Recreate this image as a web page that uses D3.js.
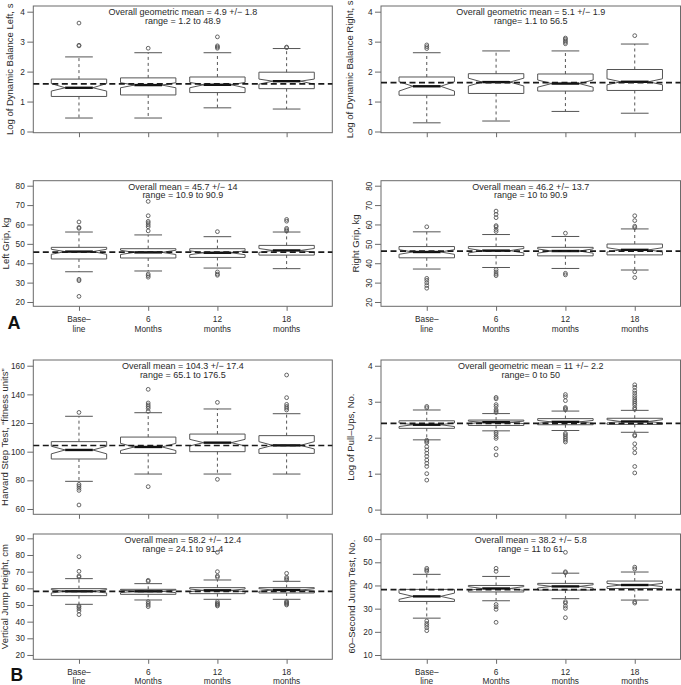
<!DOCTYPE html>
<html><head><meta charset="utf-8">
<script src="https://cdn.jsdelivr.net/npm/d3@7"></script>
<style>
body{margin:0;background:#fff}
svg{display:block;font-family:"Liberation Sans",Arial,Helvetica,sans-serif}
</style>
</head><body>
<svg id="chart" width="681" height="685"></svg>
<script>
// ---------------- data ----------------
const categories = ["Base–\nline", "6\nMonths", "12\nmonths", "18\nmonths"];

// each row: [whiskerLow, Q1, notchLow, median, notchHigh, Q3, whiskerHigh]
const balLeftStats = [
  [0.45, 1.17, 1.35, 1.46, 1.60, 1.75, 2.49],
  [0.45, 1.22, 1.46, 1.55, 1.63, 1.79, 2.63],
  [0.79, 1.30, 1.46, 1.56, 1.64, 1.82, 2.63],
  [0.75, 1.43, 1.58, 1.68, 1.75, 1.98, 2.77]];
const balLeftOut = [[2.86, 2.88, 3.62], [2.78], [2.78, 2.82, 2.86, 3.16], [2.80, 2.82]];
const balLeftMean = 1.59;

const balRightStats = [
  [0.29, 1.21, 1.35, 1.51, 1.66, 1.82, 2.63],
  [0.35, 1.27, 1.52, 1.65, 1.78, 1.93, 2.69],
  [0.67, 1.35, 1.48, 1.60, 1.72, 1.92, 2.69],
  [0.61, 1.37, 1.56, 1.66, 1.76, 2.07, 2.92]];
const balRightOut = [[2.77, 2.83, 2.89], [], [2.93, 2.98, 3.03, 3.08, 3.12], [3.20]];
const balRightMean = 1.63;

const gripLeftStats = [
  [35.6, 42.2, 44.6, 46.0, 47.2, 48.2, 56.1],
  [36.0, 42.7, 44.5, 45.6, 46.7, 47.5, 54.6],
  [37.5, 43.0, 44.4, 45.4, 46.4, 47.5, 53.7],
  [37.2, 44.2, 45.6, 46.6, 47.6, 49.2, 56.1]];
const gripLeftOut = [
  [22.9, 31.0, 31.7, 58.0, 58.5, 61.3],
  [32.8, 33.6, 34.4, 56.7, 58.8, 59.8, 60.8, 61.6, 64.5, 71.9],
  [33.8, 34.4, 35.5, 56.3],
  [56.6, 57.3, 58.0, 61.7, 62.6]];
const gripLeftMean = 45.7;

const gripRightStats = [
  [37.0, 42.8, 44.6, 45.8, 47.0, 48.6, 56.2],
  [37.8, 44.0, 45.3, 46.5, 47.6, 48.6, 54.8],
  [37.3, 43.8, 45.2, 46.3, 47.4, 48.2, 53.8],
  [36.5, 44.3, 45.8, 46.9, 48.0, 49.9, 57.7]];
const gripRightOut = [
  [27.1, 28.5, 29.9, 31.2, 32.2, 58.8],
  [33.6, 34.4, 35.5, 36.7, 56.4, 57.4, 58.8, 59.4, 63.5, 65.2, 66.9],
  [34.0, 34.8, 55.5],
  [32.6, 35.6, 58.4, 59.1, 62.0, 64.5]];
const gripRightMean = 46.2;

const harvardStats = [
  [79.3, 94.9, 98.5, 101.2, 103.8, 107.0, 124.7],
  [84.4, 98.8, 100.8, 103.3, 105.8, 110.2, 127.2],
  [84.4, 100.0, 104.0, 106.3, 108.6, 112.3, 129.8],
  [84.4, 98.8, 101.9, 104.4, 107.0, 111.2, 126.5]];
const harvardOut = [
  [62.8, 73.0, 74.5, 76.0, 77.2, 127.4],
  [75.6, 128.1, 130.2, 131.4, 132.6, 134.0, 143.5],
  [80.7, 134.4],
  [129.1, 130.4, 131.6, 133.0, 137.7, 153.5]];
const harvardMean = 104.3;

const pullStats = [
  [1.94, 2.26, 2.31, 2.36, 2.41, 2.47, 2.77],
  [2.19, 2.34, 2.39, 2.43, 2.46, 2.49, 2.67],
  [2.20, 2.36, 2.40, 2.44, 2.48, 2.53, 2.74],
  [2.15, 2.37, 2.41, 2.45, 2.50, 2.54, 2.76]];
const pullOut = [
  [0.82, 1.00, 1.20, 1.29, 1.38, 1.48, 1.57, 1.66, 1.75, 1.86, 1.90, 1.93, 2.83, 2.87],
  [1.52, 1.70, 1.98, 2.03, 2.10, 2.15, 2.70, 2.74, 2.78, 2.87, 2.92, 3.08, 3.12],
  [1.88, 1.93, 1.98, 2.03, 2.08, 2.12, 2.78, 2.81, 2.84, 3.03, 3.14, 3.20],
  [1.02, 1.20, 1.58, 1.70, 1.83, 2.05, 2.08, 2.79, 2.83, 2.90, 2.95, 3.00, 3.05, 3.11, 3.17, 3.24, 3.31, 3.40, 3.47]];
const pullMean = 2.40;

const vjumpStats = [
  [50.4, 55.6, 57.2, 58.2, 59.2, 59.8, 65.8],
  [53.0, 56.4, 57.4, 58.2, 59.0, 59.4, 62.8],
  [53.4, 56.8, 58.0, 58.8, 59.6, 60.4, 65.0],
  [53.4, 57.2, 58.2, 59.0, 59.8, 60.4, 64.2]];
const vjumpOut = [
  [44.2, 46.4, 47.8, 48.8, 49.4, 66.8, 67.4, 70.2, 79.0],
  [49.0, 50.0, 51.0, 52.0, 64.2, 64.8],
  [49.4, 50.0, 50.6, 51.0, 52.0, 66.6, 67.4, 70.0, 81.6],
  [50.0, 50.6, 51.2, 51.6, 52.2, 65.0, 65.8, 66.6, 69.0]];
const vjumpMean = 58.2;

const jump60Stats = [
  [25.9, 33.1, 34.0, 35.3, 36.7, 38.3, 44.8],
  [33.4, 37.2, 37.9, 38.7, 39.5, 40.0, 43.9],
  [34.3, 38.0, 38.9, 39.6, 40.3, 40.9, 45.3],
  [33.7, 38.7, 39.5, 40.2, 40.9, 41.9, 45.8]];
const jump60Out = [
  [20.5, 21.8, 22.8, 23.6, 24.7, 46.1, 46.7, 47.4],
  [24.1, 29.7, 30.8, 31.8, 46.1, 47.4],
  [26.1, 30.1, 31.1, 32.4, 33.0, 45.5, 45.9, 54.3],
  [32.4, 33.0, 47.1, 47.9]];
const jump60Mean = 38.2;

const logTicks = [0, 1, 2, 3, 4];
const gripTicks = [20, 30, 40, 50, 60, 70, 80];
const harvardTicks = [60, 80, 100, 120, 140, 160];
const vjumpTicks = [20, 30, 40, 50, 60, 70, 80, 90];
const jump60Ticks = [10, 20, 30, 40, 50, 60];

// ---------------- layout ----------------
const L = {x0: 33.3, x1: 332.3}, R = {x0: 381, x1: 680.5};
const rows = [
  {y0: 6, y1: 132.7}, {y0: 180.7, y1: 306.3}, {y0: 360, y1: 514.3}, {y0: 534, y1: 659.3}];

const panels = [
  {col: L, row: rows[0], stats: balLeftStats, out: balLeftOut, mean: balLeftMean, ticks: logTicks, dom: [-0.04, 4.19],
   label: "Log of Dynamic Balance Left, s", labX: 13,
   note: ["Overall geometric mean = 4.9 +/− 1.8", "range = 1.2 to 48.9"], xlab: false},
  {col: R, row: rows[0], stats: balRightStats, out: balRightOut, mean: balRightMean, ticks: logTicks, dom: [-0.04, 4.19],
   label: "Log of Dynamic Balance Right, s", labX: 353,
   note: ["Overall geometric mean = 5.1 +/− 1.9", "range= 1.1 to 56.5"], xlab: false},
  {col: L, row: rows[1], stats: gripLeftStats, out: gripLeftOut, mean: gripLeftMean, ticks: gripTicks, dom: [17.78, 82.58],
   label: "Left Grip, kg", labX: 8.5,
   note: ["Overall mean = 45.7 +/− 14", "range = 10.9 to 90.9"], xlab: true},
  {col: R, row: rows[1], stats: gripRightStats, out: gripRightOut, mean: gripRightMean, ticks: gripTicks, dom: [17.78, 82.58],
   label: "Right Grip, kg", labX: 358.5, rotTicks: true,
   note: ["Overall mean = 46.2 +/− 13.7", "range = 10 to 90.9"], xlab: true},
  {col: L, row: rows[2], stats: harvardStats, out: harvardOut, mean: harvardMean, ticks: harvardTicks, dom: [56.3, 163.98],
   label: "Harvard Step Test, \u201Cfitness units\u201D", labX: 8,
   note: ["Overall mean = 104.3 +/− 17.4", "range = 65.1 to 176.5"], xlab: false},
  {col: R, row: rows[2], stats: pullStats, out: pullOut, mean: pullMean, ticks: logTicks, dom: [-0.13, 4.16],
   label: "Log of Pull–Ups, No.", labX: 354,
   note: ["Overall geometric mean = 11 +/− 2.2", "range= 0 to 50"], xlab: false},
  {col: L, row: rows[3], stats: vjumpStats, out: vjumpOut, mean: vjumpMean, ticks: vjumpTicks, dom: [17.4, 92.6],
   label: "Vertical Jump Height, cm", labX: 7.5,
   note: ["Overall mean = 58.2 +/− 12.4", "range = 24.1 to 91.4"], xlab: true},
  {col: R, row: rows[3], stats: jump60Stats, out: jump60Out, mean: jump60Mean, ticks: jump60Ticks, dom: [8.15, 62.2],
   label: "60–Second Jump Test, No.", labX: 355,
   note: ["Overall mean = 38.2 +/− 5.8", "range = 11 to 61"], xlab: true}
];

const svg = d3.select("#chart");
const TXT = "#2a2a2a", LINE = "#555", FRAME = "#6a6a6a";

panels.forEach((p, pi) => {
  const x = d3.scaleLinear().domain([0.34, 4.66]).range([p.col.x0, p.col.x1]);
  const y = d3.scaleLinear().domain(p.dom).range([p.row.y1, p.row.y0]);
  const g = svg.append("g");

  // y axis
  const ya = g.append("g").attr("transform", `translate(${p.col.x0},0)`)
    .call(d3.axisLeft(y).tickValues(p.ticks).tickSize(6).tickPadding(2.5).tickFormat(d3.format("d")));
  ya.select(".domain").remove();
  ya.selectAll("line").attr("stroke", FRAME);
  ya.selectAll("text").attr("font-size", 8.3).attr("fill", TXT).attr("font-family", null);
  if (p.rotTicks) {
    ya.selectAll("text").attr("text-anchor", "middle").attr("dy", 0).attr("x", 0)
      .attr("transform", "translate(-8.8,0) rotate(-90)");
  }

  // x axis
  const xa = g.append("g").attr("transform", `translate(0,${p.row.y1})`)
    .call(d3.axisBottom(x).tickValues([1, 2, 3, 4]).tickSize(4.5).tickFormat(""));
  xa.select(".domain").remove();
  xa.selectAll("line").attr("stroke", FRAME);
  if (p.xlab) {
    const last = pi >= 6;
    categories.forEach((c, i) => {
      c.split("\n").forEach((s, k) => {
        g.append("text").attr("x", x(i + 1))
          .attr("y", p.row.y1 + (last ? 15.5 : 16) + k * (last ? 8.8 : 9.5))
          .attr("text-anchor", "middle").attr("font-size", 8.3).attr("fill", TXT).text(s);
      });
    });
  }

  // frame
  g.append("rect").attr("x", p.col.x0).attr("y", p.row.y0)
    .attr("width", p.col.x1 - p.col.x0).attr("height", p.row.y1 - p.row.y0)
    .attr("fill", "none").attr("stroke", FRAME).attr("stroke-width", 1);

  // y label
  g.append("text").attr("transform", `translate(${p.labX},${(p.row.y0 + p.row.y1) / 2}) rotate(-90)`)
    .attr("text-anchor", "middle").attr("font-size", 9.5).attr("fill", TXT).text(p.label);

  // boxes
  p.stats.forEach((s, i) => {
    const [wlo, q1, nlo, med, nhi, q3, whi] = s;
    const c = i + 1, w = 0.4, hw = 0.2;
    [[q3, whi], [q1, wlo]].forEach(([a, b]) => {
      g.append("line").attr("x1", x(c)).attr("x2", x(c)).attr("y1", y(a)).attr("y2", y(b))
        .attr("stroke", LINE).attr("stroke-width", 1).attr("stroke-dasharray", "3,3");
    });
    [whi, wlo].forEach(v => {
      g.append("line").attr("x1", x(c - hw)).attr("x2", x(c + hw)).attr("y1", y(v)).attr("y2", y(v))
        .attr("stroke", LINE).attr("stroke-width", 1);
    });
    const pts = [[c - w, q1], [c - w, nlo], [c - hw, med], [c - w, nhi], [c - w, q3],
                 [c + w, q3], [c + w, nhi], [c + hw, med], [c + w, nlo], [c + w, q1]];
    g.append("path").attr("d", d3.line().x(d => x(d[0])).y(d => y(d[1]))(pts) + "Z")
      .attr("fill", "none").attr("stroke", LINE).attr("stroke-width", 1);
    g.append("line").attr("x1", x(c - hw)).attr("x2", x(c + hw)).attr("y1", y(med)).attr("y2", y(med))
      .attr("stroke", "#111").attr("stroke-width", 2.4);
    g.selectAll(null).data(p.out[i]).enter().append("circle")
      .attr("cx", x(c)).attr("cy", d => y(d)).attr("r", 1.9)
      .attr("fill", "none").attr("stroke", LINE).attr("stroke-width", 0.9);
  });

  // overall mean line
  g.append("line").attr("x1", p.col.x0).attr("x2", p.col.x1).attr("y1", y(p.mean)).attr("y2", y(p.mean))
    .attr("stroke", "#1a1a1a").attr("stroke-width", 1.7).attr("stroke-dasharray", "6,3.5");

  // annotation
  const cx = (p.col.x0 + p.col.x1) / 2;
  p.note.forEach((t, k) => {
    g.append("text").attr("x", cx).attr("y", p.row.y0 + 9.2 + k * 8.5)
      .attr("text-anchor", "middle").attr("font-size", 9).attr("fill", TXT).text(t);
  });
});

// panel letters
svg.append("text").attr("x", 7.5).attr("y", 328.5).attr("font-size", 18).attr("font-weight", "bold").attr("fill", "#111").text("A");
svg.append("text").attr("x", 10.5).attr("y", 681).attr("font-size", 17.5).attr("font-weight", "bold").attr("fill", "#111").text("B");
</script>
</body></html>
